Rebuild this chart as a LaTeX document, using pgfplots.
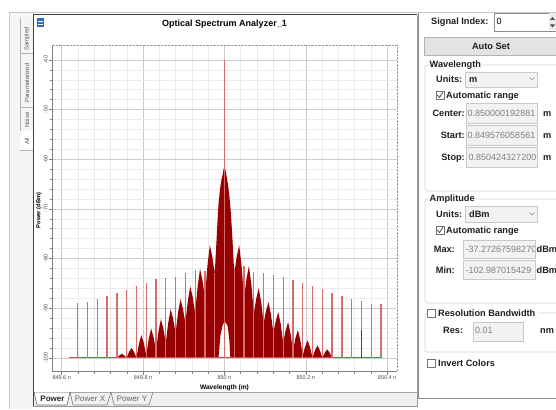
\documentclass[border=0pt]{standalone}
\usepackage{fontspec}
\setmainfont{Liberation Sans}
\usepackage{pgfplots}
\pgfplotsset{compat=1.18}
\definecolor{trace}{RGB}{150,0,0}
\definecolor{spurc}{RGB}{214,108,108}
\definecolor{spikec}{RGB}{214,105,105}
\definecolor{baselc}{RGB}{205,75,75}
\definecolor{fieldbg}{RGB}{242,242,242}
\definecolor{fieldbd}{RGB}{200,200,200}
\definecolor{valtxt}{RGB}{128,128,128}
\definecolor{lbltxt}{RGB}{30,30,30}
\definecolor{iconblue}{RGB}{45,105,200}
\tikzset{
  lbl/.style={font=\fontsize{9.2}{11}\selectfont\bfseries, text=lbltxt, inner sep=0pt},
  val/.style={font=\fontsize{9}{11}\selectfont, text=valtxt, inner sep=0pt, anchor=base west},
  field/.style={draw=fieldbd, fill=fieldbg, line width=0.6pt},
  tabt/.style={font=\fontsize{6}{7}\selectfont, text=black!65, inner sep=0pt, rotate=90},
  cbox/.style={draw=black!55, fill=white, line width=0.6pt},
  grp/.style={draw=black!18, line width=0.6pt, rounded corners=2pt},
}
\begin{document}
\begin{tikzpicture}[x=1pt,y=1pt]
\useasboundingbox (0,0) rectangle (556,-409);
\clip (0,0) rectangle (556,-409);
\fill[white] (0,0) rectangle (556,-409);
% left tab strip
\fill[black!4] (9,-12) rectangle (33,-409);
\draw[black!22, line width=0.6pt] (9,-12) -- (9,-409);
\draw[black!22, line width=0.6pt] (9,-12) -- (556,-12);
\draw[black!30, line width=0.5pt] (20,-18) -- (20,-150);
\foreach \yy in {-53,-107,-131,-150} {\draw[black!30, line width=0.5pt] (20,\yy) -- (33,\yy);}
\fill[white] (20.3,-131.3) rectangle (33,-149.7);
\node[tabt] at (27,-39) {Sampled};
\node[tabt] at (27,-83) {Parameterized};
\node[tabt] at (27,-120) {Noise};
\node[tabt] at (27,-141) {All};
% plot panel
\fill[white] (33,-15) rectangle (417,-392);
\fill[black!6] (33,-392) rectangle (417,-406);
\draw[black!35, line width=0.6pt] (33,-392) -- (417,-392);
\fill[white] (34,-392.5) -- (37,-405) -- (67,-405) -- (70,-392.5) -- cycle;
\draw[black!60, line width=0.6pt] (34,-392) -- (37,-405) -- (67,-405) -- (70,-392);
\draw[black!50, line width=0.6pt] (70,-392) -- (73,-405) -- (107,-405) -- (111,-392);
\draw[black!50, line width=0.6pt] (111,-392) -- (114,-405) -- (149,-405) -- (153,-392);
\node[font=\fontsize{8}{9}\selectfont\bfseries, text=black!85, inner sep=0pt] at (52.5,-398.5) {Power};
\node[font=\fontsize{8}{9}\selectfont, text=black!60, inner sep=0pt] at (90,-398.5) {Power X};
\node[font=\fontsize{8}{9}\selectfont, text=black!60, inner sep=0pt] at (132,-398.5) {Power Y};
\draw[black!75, line width=1pt] (33,-406) -- (33,-15) -- (417,-15);
\draw[black!40, line width=0.8pt] (417,-15) -- (417,-406) -- (33,-406);
% icon
\fill[iconblue] (37,-18.5) rectangle (43.5,-27);
\fill[white] (38,-21) rectangle (42.5,-22);
\fill[white] (38,-24) rectangle (42.5,-25);
% title
\node[font=\fontsize{9}{10}\selectfont\bfseries, inner sep=0pt] at (224.5,-24) {Optical Spectrum Analyzer\_1};

\begin{axis}[
  at={(52pt,-371.7pt)}, anchor=south west, scale only axis,
  width=345pt, height=326.7pt,
  xmin=-423.9, xmax=424.3, ymin=-102.8, ymax=-37,
  axis x line*=bottom, axis y line*=left,
  axis line style={draw=black!50, line width=0.6pt},
  xtick={-400,-200,0,200,400},
  xticklabels={849.6 n,849.8 n,850 n,850.2 n,850.4 n},
  minor x tick num=4,
  ytick={-100,-90,-80,-70,-60,-50,-40},
  yticklabels={-100,-90,-80,-70,-60,-50,-40},
  minor y tick num=4,
  grid=both,
  major grid style={draw=black!20, line width=0.5pt},
  minor grid style={draw=black!8, line width=0.5pt},
  tick align=outside,
  major tick length=3pt, minor tick length=2pt,
  tick style={draw=black!50, line width=0.5pt},
  tick label style={font=\fontsize{5.5}{6}\selectfont, text=black!70},
  xticklabel style={anchor=north, inner sep=1pt},
  yticklabel style={rotate=90, anchor=south, inner sep=1pt},
  xlabel={Wavelength (m)}, ylabel={Power (dBm)},
  xlabel style={font=\fontsize{6.6}{7}\selectfont\bfseries, at={(axis description cs:0.5,-0.050)}, anchor=center},
  ylabel style={font=\fontsize{5.8}{6}\selectfont\bfseries, at={(axis description cs:-0.0377,0.494)}, anchor=center},
  clip=false,
]
% dense modulated spectrum (lobe envelope), x in pm offset from 850 nm
\addplot[draw=none, fill=trace] coordinates {
(-264.35,-100)
(-258.3,-99.52) (-252.3,-99.2) (-246.3,-99.52) (-240.3,-100)
(-234.3,-98.8) (-228.3,-98.0) (-222.3,-98.8) (-216.25,-100)
(-210.2,-97.24) (-204.2,-95.4) (-198.2,-97.04) (-192.2,-99.5)
(-186.2,-96.26) (-180.2,-94.1) (-174.2,-95.86) (-168.15,-98.5)
(-162.1,-94.72) (-156.1,-92.2) (-150.1,-94.12) (-144.1,-97)
(-138.1,-92.92) (-132.1,-90.2) (-126.1,-92.12) (-120.05,-95)
(-114.0,-90.92) (-108.0,-88.2) (-102.0,-90.12) (-96.0,-93)
(-90.0,-88.56) (-84.0,-85.6) (-78.0,-87.76) (-71.95,-91)
(-65.9,-85.66) (-59.9,-82.1) (-53.9,-84.46) (-47.9,-88)
(-41.9,-81.58) (-35.9,-77.3) (-29.9,-79.58) (-23.85,-83)
(-21.8,-80) (-19.5,-76.5) (-17,-72.5) (-14.5,-69) (-12,-67) (-9.5,-65.2)
(-7,-64) (-4.5,-63.2) (-2,-62) (0.2,-61.3) (2.4,-62.2) (4.9,-63.2) (7.4,-64.4)
(9.9,-65.8) (12.4,-67.6) (14.9,-69.8) (17.4,-72.8) (20,-76.5) (22.2,-80) (24.25,-83)
(30.3,-79.58) (36.3,-77.3) (42.3,-81.58) (48.3,-88)
(54.3,-84.1) (60.3,-81.5) (66.3,-85.3) (72.35,-91)
(78.4,-88.0) (84.4,-86.0) (90.4,-88.8) (96.4,-93)
(102.4,-90.48) (108.4,-88.8) (114.4,-91.28) (120.45,-95)
(126.5,-92.48) (132.5,-90.8) (138.5,-93.28) (144.5,-97)
(150.5,-94.48) (156.5,-92.8) (162.5,-95.08) (168.55,-98.5)
(174.6,-96.04) (180.6,-94.4) (186.6,-96.44) (192.6,-99.5)
(198.6,-97.7) (204.6,-96.5) (210.6,-97.9) (216.65,-100)
(222.7,-98.5) (228.7,-97.5) (234.7,-98.5) (240.7,-100)
(246.7,-98.98) (252.7,-98.3) (258.7,-98.98) (264.75,-100)
(14.6,-100) (12.2,-96.5) (8.2,-93.6) (2.2,-92.8) (-3.8,-93.2) (-9.8,-95.5) (-14.6,-100)
} -- cycle;
% noise floor
\addplot[color=baselc, line width=0.9pt] coordinates {(-383,-100) (384,-100)};
% side tones
\addplot[color=spurc, line width=1.3pt, unbounded coords=jump] coordinates {
(-360.55,-100) (-360.55,-89.0) (0,nan)
(-336.5,-100) (-336.5,-88.8) (0,nan)
(-312.45,-100) (-312.45,-88.2) (0,nan)
(-288.4,-100) (-288.4,-87.6) (0,nan)
(-264.35,-100) (-264.35,-87.0) (0,nan)
(-240.3,-100) (-240.3,-86.4) (0,nan)
(-216.25,-100) (-216.25,-85.6) (0,nan)
(-192.2,-100) (-192.2,-85.0) (0,nan)
(-168.15,-100) (-168.15,-84.2) (0,nan)
(-144.1,-100) (-144.1,-84.0) (0,nan)
(-120.05,-100) (-120.05,-83.75) (0,nan)
(-96.0,-100) (-96.0,-82.9) (0,nan)
(-71.95,-100) (-71.95,-82.3) (0,nan)
(-47.9,-100) (-47.9,-82.5) (0,nan)
(-23.85,-100) (-23.85,-83.0) (0,nan)
(24.25,-100) (24.25,-82.0) (0,nan)
(48.3,-100) (48.3,-81.5) (0,nan)
(72.35,-100) (72.35,-82.7) (0,nan)
(96.4,-100) (96.4,-82.9) (0,nan)
(120.45,-100) (120.45,-83.3) (0,nan)
(144.5,-100) (144.5,-83.75) (0,nan)
(168.55,-100) (168.55,-84.4) (0,nan)
(192.6,-100) (192.6,-85.0) (0,nan)
(216.65,-100) (216.65,-85.6) (0,nan)
(240.7,-100) (240.7,-86.2) (0,nan)
(264.75,-100) (264.75,-87.0) (0,nan)
(288.8,-100) (288.8,-87.6) (0,nan)
(312.85,-100) (312.85,-88.2) (0,nan)
(336.9,-100) (336.9,-88.6) (0,nan)
(360.95,-100) (360.95,-89.2) (0,nan)
(385.0,-100) (385.0,-89.2)
};
\addplot[color=trace!80!spurc, line width=1pt] coordinates {(336.9,-100) (336.9,-94.4)};
% carrier
\addplot[color=spikec, line width=0.8pt] coordinates {(0.2,-100) (0.2,-40)};
\draw[black!40, dash pattern=on 2.5pt off 1pt, line width=0.6pt] (rel axis cs:0,1) -- (rel axis cs:1,1) -- (rel axis cs:1,0);
\end{axis}

% right panel
\draw[black!45, line width=0.7pt] (418,-13) -- (418,-398) -- (556,-398);
\node[lbl, anchor=base west] at (431,-25) {Signal Index:};
\draw[draw=black!45, fill=white, line width=0.6pt] (494,-13) rectangle (560,-31);
\node[font=\fontsize{9}{11}\selectfont, text=black, inner sep=0pt, anchor=base west] at (496.5,-24.5) {0};
\fill[black!8] (548.5,-13.5) rectangle (556,-30.5);
\fill[black!70] (550,-20) -- (552.5,-17) -- (555,-20) -- cycle;
\fill[black!70] (550,-24.5) -- (552.5,-27.5) -- (555,-24.5) -- cycle;
\draw[draw=black!30, fill=black!11, line width=0.6pt] (424,-37) rectangle (560,-55);
\node[lbl] at (491,-46) {Auto Set};
% Wavelength group
\draw[grp] (425,-65) rectangle (562,-191);
\node[lbl, fill=white, inner xsep=1pt, anchor=west] at (428.5,-65) {Wavelength};
\node[lbl, anchor=base west] at (436,-82.3) {Units:};
\draw[field] (465,-72) rectangle (537,-87);
\node[lbl, anchor=base west] at (469,-82.3) {m};
\draw[black!45, line width=0.6pt] (529.5,-77.5) -- (532,-80) -- (534.5,-77.5);
\draw[cbox] (436,-91) rectangle (444,-99);
\draw[black!70, line width=0.8pt] (437.3,-95) -- (439.5,-97.5) -- (442.8,-92.2);
\node[lbl, anchor=base west] at (446,-98.3) {Automatic range};
\node[lbl, anchor=base east] at (465,-116.3) {Center:};
\draw[field] (466,-103) rectangle (537,-123);
\begin{scope}\clip (466.5,-103.5) rectangle (536.5,-122.5);
\node[val] at (467.5,-116.3) {0.850000192881};\end{scope}
\node[lbl, anchor=base west] at (543,-116.3) {m};
\node[lbl, anchor=base east] at (465,-138.3) {Start:};
\draw[field] (466,-125) rectangle (537,-145);
\begin{scope}\clip (466.5,-125.5) rectangle (536.5,-144.5);
\node[val] at (467.5,-138.3) {0.849576058561};\end{scope}
\node[lbl, anchor=base west] at (543,-138.3) {m};
\node[lbl, anchor=base east] at (465,-160.3) {Stop:};
\draw[field] (466,-147) rectangle (537,-167);
\begin{scope}\clip (466.5,-147.5) rectangle (536.5,-166.5);
\node[val] at (468.5,-160.3) {0.850424327200};\end{scope}
\node[lbl, anchor=base west] at (543,-160.3) {m};
% Amplitude group
\draw[grp] (425,-199) rectangle (562,-303);
\node[lbl, fill=white, inner xsep=1pt, anchor=west] at (428.5,-199) {Amplitude};
\node[lbl, anchor=base west] at (436,-217.3) {Units:};
\draw[field] (465,-206) rectangle (537,-222);
\node[lbl, anchor=base west] at (469,-217.3) {dBm};
\draw[black!45, line width=0.6pt] (529.5,-212.5) -- (532,-215) -- (534.5,-212.5);
\draw[cbox] (436,-226) rectangle (444,-234);
\draw[black!70, line width=0.8pt] (437.3,-230) -- (439.5,-232.5) -- (442.8,-227.2);
\node[lbl, anchor=base west] at (446,-233.3) {Automatic range};
\node[lbl, anchor=base east] at (455,-252.3) {Max:};
\draw[field] (463,-240) rectangle (535,-258);
\begin{scope}\clip (463.5,-240.5) rectangle (534.5,-257.5);
\node[val] at (465.5,-252.3) {-37.27267598270};\end{scope}
\node[lbl, anchor=base west] at (536.5,-252.3) {dBm};
\node[lbl, anchor=base east] at (455,-273.3) {Min:};
\draw[field] (463,-260) rectangle (535,-279);
\begin{scope}\clip (463.5,-260.5) rectangle (534.5,-278.5);
\node[val] at (465.5,-273.3) {-102.987015429};\end{scope}
\node[lbl, anchor=base west] at (536.5,-273.3) {dBm};
% Resolution bandwidth group
\draw[grp] (425,-313) rectangle (562,-352);
\fill[white] (426,-306) rectangle (539,-319);
\draw[cbox] (427,-309) rectangle (435,-317);
\node[lbl, anchor=base west] at (438,-316.3) {Resolution Bandwidth};
\node[lbl, anchor=base west] at (443,-333.3) {Res:};
\draw[field] (473,-322) rectangle (523,-341);
\node[val] at (475,-333.3) {0.01};
\node[lbl, anchor=base west] at (540,-333.3) {nm};
% Invert colors
\draw[cbox] (427,-359) rectangle (435,-367);
\node[lbl, anchor=base west] at (438,-366.3) {Invert Colors};
\end{tikzpicture}
\end{document}
